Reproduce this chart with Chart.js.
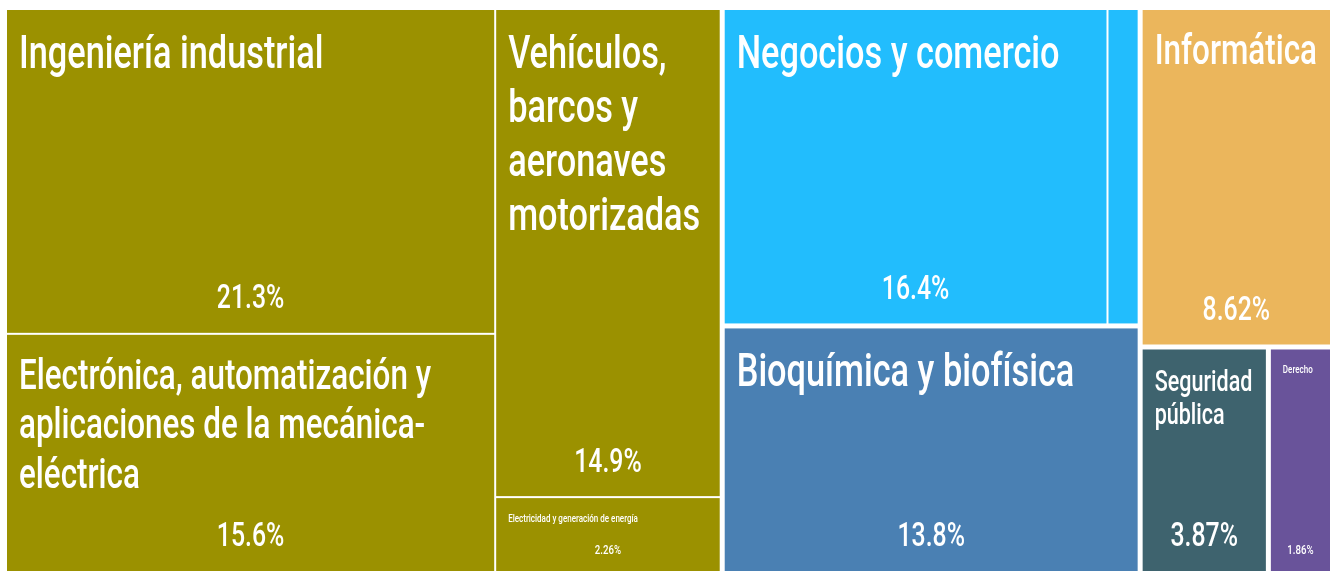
<!DOCTYPE html>
<html lang="es">
<head>
<meta charset="utf-8">
<title>Treemap campos de estudio</title>
<script src="https://cdn.jsdelivr.net/npm/chart.js@4.4.1/dist/chart.umd.min.js"></script>
<style>
  html, body { margin: 0; padding: 0; background: #fff; }
  #wrap { width: 1330px; height: 571px; }
</style>
</head>
<body>
<div id="wrap"><canvas id="treeChart"></canvas></div>
<script>
// grupos (campo amplio) y su color
const groupNames = [
    'Ingeniería, manufactura y construcción',
    'Administración y negocios',
    'Ciencias naturales, matemáticas y estadística',
    'Tecnologías de la información y la comunicación',
    'Servicios',
    'Ciencias sociales y derecho'
];
const groupColors = ['#9b9100', '#22bdfd', '#4a80b3', '#ebb65c', '#3e636e', '#69539a'];

// campos detallados
const categories = [
    'Ingeniería industrial',
    'Electrónica, automatización y aplicaciones de la mecánica-eléctrica',
    'Vehículos, barcos y aeronaves motorizadas',
    'Electricidad y generación de energía',
    'Negocios y comercio',
    'Mercadotecnia y publicidad',
    'Bioquímica y biofísica',
    'Informática',
    'Seguridad pública',
    'Derecho'
];
const shares = [21.3, 15.6, 14.9, 2.26, 16.4, 1.39, 13.8, 8.62, 3.87, 1.86];
const categoryGroup = [0, 0, 0, 0, 1, 1, 2, 3, 4, 5];

const FONT = 'Roboto, "Noto Sans", sans-serif';
const WEIGHT = 500;
const SX = 0.73;        // texto estrecho (el original esta estirado en vertical)
const SQUASH = 0.72;    // proporcion vertical con la que se calculo el mosaico
const NAME_MAX = 47;
const PCT_MAX = 34;
const SMALL_MAX = 11;
const LH = 1.15;
const PAD = 12;
const GROUP_GAP = 5;
const CELL_GAP = 2;
const PHI = (1 + Math.sqrt(5)) / 2;

// squarify al estilo d3 (kx, ky = pixeles por unidad, para medir proporciones)
function squarify(nodes, box, kx, ky) {
    nodes = nodes.slice().sort((a, b) => b.value - a.value);
    let { x0, y0, x1, y1 } = box;
    let value = nodes.reduce((s, n) => s + n.value, 0);
    let i0 = 0, i1 = 0;
    const n = nodes.length;
    while (i0 < n) {
        const dx = (x1 - x0) * kx, dy = (y1 - y0) * ky;
        let sum = nodes[i1++].value, minV = sum, maxV = sum;
        const alpha = Math.max(dy / dx, dx / dy) / (value * PHI);
        let beta = sum * sum * alpha;
        let minRatio = Math.max(maxV / beta, beta / minV);
        for (; i1 < n; ++i1) {
            const v = nodes[i1].value;
            sum += v;
            if (v < minV) minV = v;
            if (v > maxV) maxV = v;
            beta = sum * sum * alpha;
            const r = Math.max(maxV / beta, beta / minV);
            if (r > minRatio) { sum -= v; break; }
            minRatio = r;
        }
        const row = nodes.slice(i0, i1);
        if (dx < dy) {
            const ny = y0 + (y1 - y0) * sum / value;
            let x = x0;
            row.forEach(nd => {
                const w = (x1 - x0) * nd.value / sum;
                nd.rect = { x0: x, y0: y0, x1: x + w, y1: ny };
                x += w;
            });
            y0 = ny;
        } else {
            const nx = x0 + (x1 - x0) * sum / value;
            let y = y0;
            row.forEach(nd => {
                const h = (y1 - y0) * nd.value / sum;
                nd.rect = { x0: x0, y0: y, x1: nx, y1: y + h };
                y += h;
            });
            x0 = nx;
        }
        value -= sum;
        i0 = i1;
    }
    return nodes;
}

function textW(ctx, s, size) {
    ctx.font = `${WEIGHT} ${size}px ${FONT}`;
    return ctx.measureText(s).width * SX;
}

function tokenize(label) {
    const out = [];
    label.split(' ').forEach(word => {
        const parts = word.split(/(?<=-)/);
        parts.forEach((p, k) => out.push({ t: p, sp: k === 0 }));
    });
    return out;
}

function wrap(ctx, label, size, maxW) {
    const toks = tokenize(label);
    const lines = [];
    let cur = '';
    for (const tk of toks) {
        if (textW(ctx, tk.t, size) > maxW) return null;
        const cand = cur === '' ? tk.t : cur + (tk.sp ? ' ' : '') + tk.t;
        if (textW(ctx, cand, size) <= maxW) cur = cand;
        else { lines.push(cur); cur = tk.t; }
    }
    if (cur) lines.push(cur);
    return lines;
}

function fitName(ctx, label, w, h) {
    if (Math.min(w, h) < 80) {
        const s = Math.min(SMALL_MAX, Math.min(w, h) * 0.2);
        if (s < 7) return null;
        return { s, small: true, lines: wrap(ctx, label, s, w - 2 * PAD) || [label] };
    }
    for (let s = NAME_MAX; s >= 8; s -= 0.5) {
        const lines = wrap(ctx, label, s, w - 2 * PAD);
        if (lines && lines.length * s * LH <= h * 0.63) return { s, lines };
    }
    return null;
}

function drawText(ctx, str, x, y, size, align) {
    ctx.save();
    ctx.font = `${WEIGHT} ${size}px ${FONT}`;
    ctx.translate(x, y);
    ctx.scale(SX, 1);
    ctx.textAlign = align;
    ctx.textBaseline = 'alphabetic';
    ctx.fillText(str, 0, 0);
    ctx.restore();
}

const treemapPlugin = {
    id: 'treemapCells',
    afterDatasetsDraw(chart) {
        const { ctx, chartArea, scales: { x, y } } = chart;
        const kx = chartArea.width / 100, ky = chartArea.height / 100 * SQUASH;

        const groups = groupNames.map((name, g) => ({
            g,
            value: shares.reduce((s, v, i) => s + (categoryGroup[i] === g ? v : 0), 0)
        }));
        squarify(groups, { x0: 0, y0: 0, x1: 100, y1: 100 }, kx, ky);

        const cells = [];
        groups.forEach(gr => {
            const kids = categories
                .map((c, i) => ({ i, value: shares[i] }))
                .filter(k => categoryGroup[k.i] === gr.g);
            squarify(kids, gr.rect, kx, ky);
            kids.forEach(k => cells.push({ ...k, grect: gr.rect }));
        });

        const eps = 1e-6;
        const inset = (v, gv, outer) => {
            if (Math.abs(v - outer) < eps) return 0;
            if (Math.abs(v - gv) < eps) return GROUP_GAP / 2;
            return CELL_GAP / 2;
        };

        ctx.save();
        cells.forEach(c => {
            const r = c.rect, g = c.grect;
            const left = x.getPixelForValue(r.x0) + inset(r.x0, g.x0, 0);
            const right = x.getPixelForValue(r.x1) - inset(r.x1, g.x1, 100);
            const top = y.getPixelForValue(r.y0) + inset(r.y0, g.y0, 0);
            const bottom = y.getPixelForValue(r.y1) - inset(r.y1, g.y1, 100);
            const w = right - left, h = bottom - top;

            ctx.fillStyle = groupColors[categoryGroup[c.i]];
            ctx.fillRect(left, top, w, h);

            const name = fitName(ctx, categories[c.i], w, h);
            if (!name) return;
            ctx.fillStyle = '#ffffff';
            name.lines.forEach((ln, k) => {
                drawText(ctx, ln, left + PAD, top + 13 + 0.95 * name.s + k * name.s * LH, name.s, 'left');
            });

            const pct = shares[c.i].toPrecision(3) + '%';
            let ps = name.small ? name.s * 1.2 : PCT_MAX;
            while (ps > 6 && textW(ctx, pct, ps) > w - 2 * PAD) ps -= 0.5;
            drawText(ctx, pct, left + w / 2, bottom - (12 + 0.37 * ps), ps, 'center');
        });
        ctx.restore();
    }
};

new Chart(document.getElementById('treeChart'), {
    type: 'scatter',
    data: { datasets: [{ label: 'Participación', data: [] }] },
    options: {
        responsive: true,
        maintainAspectRatio: false,
        animation: false,
        layout: { padding: { left: 7, top: 10, right: 0, bottom: 0 } },
        scales: {
            x: { type: 'linear', min: 0, max: 100, display: false },
            y: { type: 'linear', min: 0, max: 100, reverse: true, display: false }
        },
        plugins: {
            legend: { display: false },
            tooltip: { enabled: false }
        }
    },
    plugins: [treemapPlugin]
});
</script>
</body>
</html>
